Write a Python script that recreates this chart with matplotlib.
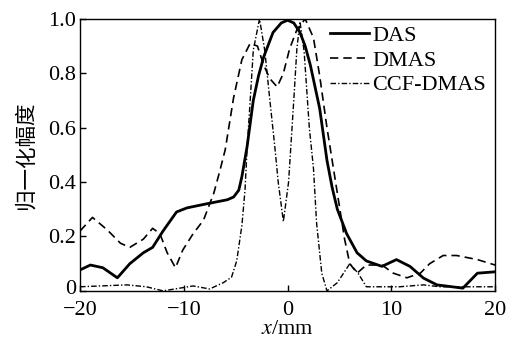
import numpy as np
import matplotlib.pyplot as plt
import matplotlib.transforms as mtransforms
from matplotlib.ticker import FuncFormatter

# DAS (solid)
das_x = [-20, -19.0, -17.8, -16.4, -15.2, -13.9, -13.0, -12.0, -10.7, -9.7,
         -7.8, -5.8, -5.2, -4.7, -4.4, -3.9, -3.3, -2.8, -2.3, -1.4, -0.6, 0.0,
         0.6, 1.2, 1.7, 2.2, 3.1, 3.8, 4.3, 4.8, 5.7, 6.7, 7.6, 9.1, 10.5,
         11.8, 13.1, 14.4, 16.9, 18.3, 20]
das_y = [0.077, 0.095, 0.085, 0.048, 0.10, 0.14, 0.16, 0.22, 0.29, 0.305,
         0.32, 0.335, 0.345, 0.37, 0.42, 0.53, 0.70, 0.79, 0.86, 0.95, 0.985, 0.995,
         0.985, 0.95, 0.90, 0.83, 0.67, 0.48, 0.38, 0.30, 0.21, 0.14, 0.11, 0.09, 0.115,
         0.09, 0.047, 0.022, 0.01, 0.065, 0.07]

# DMAS (dashed)
dmas_x = [-20, -18.8, -17.4, -16.1, -15.2, -13.9, -13.0, -12.3, -11.6, -10.8,
          -10.1, -9.1, -8.1, -7.1, -6.5, -6.0, -5.2, -4.4, -3.6, -2.9, -2.3,
          -1.7, -1.0, -0.4, 0.2, 0.9, 1.7, 2.5, 3.1, 3.8, 4.3, 4.9, 5.5, 6.0,
          6.7, 7.6, 9.1, 10.2, 11.5, 12.8, 13.7, 15.0, 16.3, 18.3, 20]
dmas_y = [0.22, 0.27, 0.225, 0.175, 0.16, 0.19, 0.23, 0.21, 0.14, 0.085,
          0.15, 0.21, 0.26, 0.36, 0.445, 0.52, 0.71, 0.85, 0.91, 0.90, 0.83,
          0.78, 0.75, 0.80, 0.89, 0.96, 1.0, 0.93, 0.79, 0.60, 0.48, 0.335, 0.19, 0.10,
          0.065, 0.095, 0.095, 0.065, 0.048, 0.065, 0.10, 0.13, 0.13, 0.115, 0.095]

# CCF-DMAS (dash-dot)
ccf_x = [-20, -15.5, -13.6, -12.0, -11.5, -9.1, -7.5, -6.2, -5.4, -4.9, -4.4,
         -4.1, -3.9, -3.6, -3.3, -2.7, -2.2, -1.7, -1.2, -0.9, -0.4, 0.1,
         0.6, 0.9, 1.2, 1.6, 2.1, 2.5, 2.8, 3.3, 3.8, 4.8, 5.4, 6.0, 6.8,
         7.6, 8.2, 10.8, 13.1, 14.7, 20]
ccf_y = [0.015, 0.022, 0.015, 0.0, 0.003, 0.018, 0.007, 0.03, 0.05, 0.11, 0.24,
         0.37, 0.52, 0.70, 0.885, 1.0, 0.885, 0.70, 0.52, 0.40, 0.255, 0.40,
         0.70, 0.89, 0.99, 0.88, 0.60, 0.45, 0.25, 0.065, 0.0, 0.03, 0.065, 0.10, 0.065,
         0.015, 0.015, 0.015, 0.022, 0.015, 0.015]

plt.rcParams['font.family'] = ['Liberation Serif', 'Noto Sans CJK SC']
plt.rcParams['mathtext.fontset'] = 'stix'

fig = plt.figure(figsize=(5.13, 3.43), dpi=100)
ax = fig.add_axes([0.156, 0.152, 0.809, 0.793])

ax.plot(das_x, das_y, color='black', linewidth=2.0, label='DAS')
ax.plot(dmas_x, dmas_y, color='black', linewidth=1.2, linestyle=(0, (5, 3)),
        label='DMAS')
ax.plot(ccf_x, ccf_y, color='black', linewidth=1.0,
        linestyle=(0, (4, 1.5, 1, 1.5)), label='CCF-DMAS')

ax.set_xlim(-20, 20)
ax.set_ylim(0, 1.0)
ax.set_xticks([-20, -10, 0, 10, 20])
ax.set_yticks([0, 0.2, 0.4, 0.6, 0.8, 1.0])
ax.yaxis.set_major_formatter(FuncFormatter(lambda v, p: '0' if v == 0 else f'{v:.1f}'))
ax.tick_params(direction='in', labelsize=16, length=4, width=1)
ax.tick_params(axis='x', pad=7)
ax.tick_params(axis='y', pad=3)
for s in ax.spines.values():
    s.set_linewidth(1.0)

# nudge the "0" label on y up a little, like the original
lab0 = ax.get_yticklabels()[0]
lab0.set_transform(lab0.get_transform() +
                   mtransforms.ScaledTranslation(0, 3 / 72, fig.dpi_scale_trans))

ax.set_xlabel('$x$/mm', fontsize=16, labelpad=0)
ax.set_ylabel('归一化幅度', fontsize=15.5, family='Noto Sans CJK SC', labelpad=8)

ax.legend(loc='upper left', frameon=False, fontsize=16, handlelength=1.75,
          handletextpad=0.15, labelspacing=0.18, borderpad=0, borderaxespad=0,
          bbox_to_anchor=(0.602, 0.975))

fig.savefig('out.png', dpi=100)
